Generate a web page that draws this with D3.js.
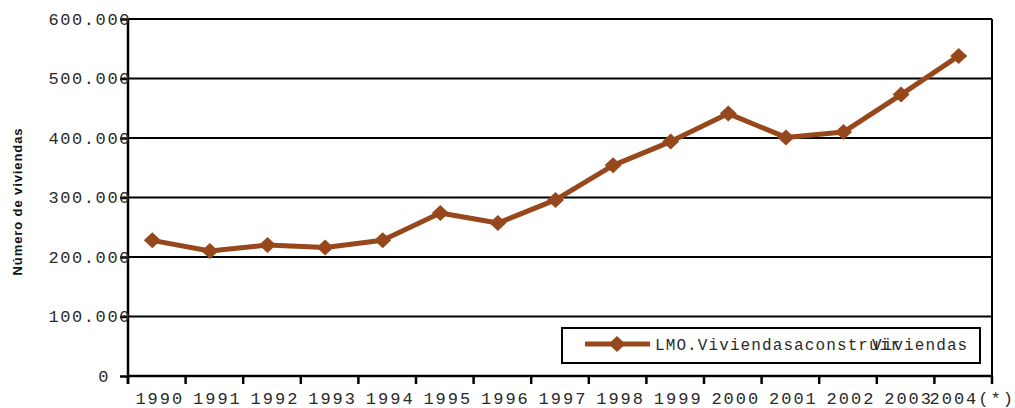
<!DOCTYPE html>
<html>
<head>
<meta charset="utf-8">
<script src="https://cdn.jsdelivr.net/npm/d3@7"></script>
<style>
  html, body { margin: 0; padding: 0; background: #fff; }
  svg { display: block; }
  .mono { font-family: "Liberation Mono", "DejaVu Sans Mono", monospace; fill: #2a2a2a; }
</style>
</head>
<body>
<svg id="chart" width="1015" height="408"></svg>
<script>
// Viviendas construidas por año (miles)
const years = ["1990","1991","1992","1993","1994","1995","1996","1997","1998","1999","2000","2001","2002","2003","2004(*)"];
const viviendas = [228, 210, 220, 216, 228, 274, 257, 296, 354, 394, 441, 401, 410, 473, 538];
const yTicks = [0, 100, 200, 300, 400, 500, 600];
const yTickLabels = ["0", "100.000", "200.000", "300.000", "400.000", "500.000", "600.000"];
const seriesName = "LMO.Viviendasaconstruir";
const seriesName2 = "Viviendas";
const axisTitle = "Número de viviendas";

const svg = d3.select("#chart");
const W = 1015, H = 408;
const m = { left: 128, right: 23, top: 19, bottom: 32 };
const x0 = m.left, x1 = W - m.right, yTop = m.top, yBot = H - m.bottom;
const lineColor = "#96481C";

const x = d3.scaleBand().domain(years).range([x0, x1]);
const y = d3.scaleLinear().domain([0, 600]).range([yBot, yTop]);
const px = d => x(d) + x.bandwidth() / 2 - 4.5;

// diamond marker: square turned 45 degrees
const diamondPath = "M0,-8L8.5,0L0,8L-8.5,0Z";

// horizontal gridlines
svg.append("g").selectAll("line").data(yTicks.slice(1)).join("line")
  .attr("x1", x0).attr("x2", x1)
  .attr("y1", d => y(d)).attr("y2", d => y(d))
  .attr("stroke", "#000").attr("stroke-width", 2);

// right border
svg.append("line").attr("x1", x1).attr("x2", x1).attr("y1", yTop).attr("y2", yBot + 8)
  .attr("stroke", "#000").attr("stroke-width", 2);

// y axis
const yAxis = d3.axisLeft(y).tickValues(yTicks).tickSize(8).tickPadding(2)
  .tickFormat((d, i) => yTickLabels[i]);
const gy = svg.append("g").attr("transform", `translate(${x0},0)`).call(yAxis);
gy.select(".domain").attr("d", `M0,${yTop}V${yBot + 8}`).attr("stroke", "#000").attr("stroke-width", 2.5);
gy.selectAll(".tick line").attr("stroke", "#000").attr("stroke-width", 2.5);
gy.selectAll(".tick text").attr("class", "mono").attr("font-size", 17)
  .attr("letter-spacing", 1.6).attr("x", d => d === 0 ? -18 : 3).attr("dy", "0.3em");

// x axis: ticks at band boundaries
const gx = svg.append("g");
gx.append("line").attr("x1", x0).attr("x2", x1).attr("y1", yBot).attr("y2", yBot)
  .attr("stroke", "#000").attr("stroke-width", 2.5);
const bounds = years.map(d => x(d)).concat([x1]);
gx.selectAll("line.tk").data(bounds).join("line").attr("class", "tk")
  .attr("x1", d => d).attr("x2", d => d).attr("y1", yBot).attr("y2", yBot + 8)
  .attr("stroke", "#000").attr("stroke-width", 2.5);
gx.selectAll("text").data(years).join("text").attr("class", "mono")
  .attr("x", d => x(d) + x.bandwidth() / 2 + (d.length > 4 ? 9 : 3))
  .attr("y", yBot + 28)
  .attr("text-anchor", "middle").attr("font-size", 17).attr("letter-spacing", 2.0)
  .text(d => d);

// axis title
svg.append("text")
  .attr("transform", `translate(22,${(yTop + yBot) / 2 + 4}) rotate(-90)`)
  .attr("text-anchor", "middle")
  .attr("font-family", "Liberation Sans, Arial, sans-serif")
  .attr("font-weight", "bold").attr("font-size", 13).attr("letter-spacing", 0.9)
  .attr("fill", "#111")
  .text(axisTitle);

// series line
const line = d3.line().x((d, i) => px(years[i])).y(d => y(d));
svg.append("path").datum(viviendas).attr("d", line)
  .attr("fill", "none").attr("stroke", lineColor).attr("stroke-width", 5)
  .attr("stroke-linejoin", "round");

svg.append("g").selectAll("path").data(viviendas).join("path")
  .attr("transform", (d, i) => `translate(${px(years[i])},${y(d)})`)
  .attr("d", diamondPath).attr("fill", lineColor);

// legend
const lg = svg.append("g");
lg.append("rect").attr("x", 562).attr("y", 328).attr("width", 418).attr("height", 35)
  .attr("fill", "#fff").attr("stroke", "#000").attr("stroke-width", 2);
lg.append("line").attr("x1", 585).attr("x2", 650).attr("y1", 344).attr("y2", 344)
  .attr("stroke", lineColor).attr("stroke-width", 5);
lg.append("path").attr("transform", "translate(617,344)").attr("d", diamondPath).attr("fill", lineColor);
lg.append("text").attr("class", "mono").attr("x", 655).attr("y", 350)
  .attr("font-size", 16).attr("letter-spacing", 1.1).text(seriesName);
lg.append("text").attr("class", "mono").attr("x", 872).attr("y", 350)
  .attr("font-size", 16).attr("letter-spacing", 1.1).text(seriesName2);
</script>
</body>
</html>
